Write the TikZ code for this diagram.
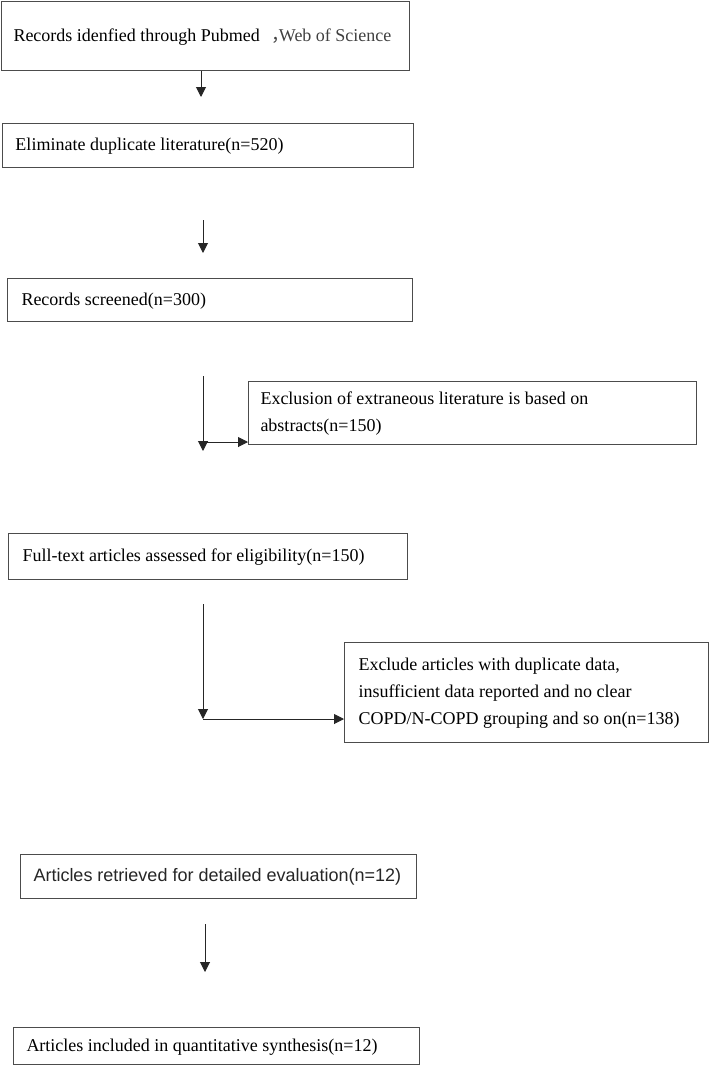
\documentclass[tikz,border=0pt]{standalone}
\usepackage{fontspec}
\setmainfont{Liberation Serif}
\newfontfamily\cjk{Noto Sans CJK SC}
\newfontfamily\arialfont{Liberation Sans}
\usetikzlibrary{arrows.meta}
\newcommand{\boxtxt}[2]{\makebox[#1][l]{\begin{tabular}{@{}l@{}}#2\end{tabular}}}
\tikzset{
  box/.style={draw=black!70, line width=1pt, rectangle, anchor=north west,
    inner ysep=0pt, font=\fontsize{18}{27}\selectfont, text=black},
  conn/.style={draw=black!85, line width=1pt, -{Triangle[width=10pt,length=10pt]}}
}
\begin{document}
\begin{tikzpicture}[x=1pt,y=-1pt]
\useasboundingbox (0,0) rectangle (709,1065);
% boxes
\node[box, minimum width=408pt, minimum height=69pt, inner xsep=12pt] (b1) at (1,1)
  {\boxtxt{384pt}{Records idenfied through Pubmed\hspace{12pt}{\cjk\color{black!75}，}\hspace{-11pt}{\color{black!75}Web of Science}}};
\node[box, minimum width=411pt, minimum height=44pt, inner xsep=13pt] (b2) at (2,123)
  {\boxtxt{385pt}{Eliminate duplicate literature(n=520)}};
\node[box, minimum width=405pt, minimum height=43pt, inner xsep=14pt] (b3) at (7,278)
  {\boxtxt{377pt}{Records screened(n=300)}};
\node[box, minimum width=448pt, minimum height=63pt, inner xsep=12pt] (b4) at (248,381)
  {\boxtxt{424pt}{Exclusion of extraneous literature is based on\\abstracts(n=150)}};
\node[box, minimum width=399pt, minimum height=46pt, inner xsep=14pt] (b5) at (8,533)
  {\boxtxt{371pt}{Full-text articles assessed for eligibility(n=150)}};
\node[box, minimum width=364pt, minimum height=100pt, inner xsep=14pt] (b6) at (344,642)
  {\boxtxt{336pt}{Exclude articles with duplicate data,\\insufficient data reported and no clear\\COPD/N-COPD grouping and so on(n=138)}};
\node[box, minimum width=396pt, minimum height=44pt, inner xsep=13pt, font=\arialfont\fontsize{18}{27}\selectfont, text=black!85] (b7) at (20,854)
  {\boxtxt{370pt}{Articles retrieved for detailed evaluation(n=12)}};
\node[box, minimum width=406pt, minimum height=37pt, inner xsep=13pt] (b8) at (13,1027)
  {\boxtxt{380pt}{Articles included in quantitative synthesis(n=12)}};
% connector end points
\coordinate (a1e) at (201,97);
\coordinate (a2s) at (203,220);
\coordinate (a2e) at (203,253);
\coordinate (a3s) at (203,376);
\coordinate (a3e) at (203,451);
\coordinate (h3) at (203,442);
\coordinate (a5s) at (203,604);
\coordinate (a5e) at (203,719);
\coordinate (a4s) at (205,924);
\coordinate (a4e) at (205,972);
% connectors
\draw[conn] (b1.south -| a1e) -- (a1e);
\draw[conn] (a2s) -- (a2e);
\draw[conn] (a3s) -- (a3e);
\draw[conn] (h3) -- (b4.west |- h3);
\draw[conn] (a5s) -- (a5e);
\draw[conn] (a5e) -- (b6.west |- a5e);
\draw[conn] (a4s) -- (a4e);
\end{tikzpicture}
\end{document}
